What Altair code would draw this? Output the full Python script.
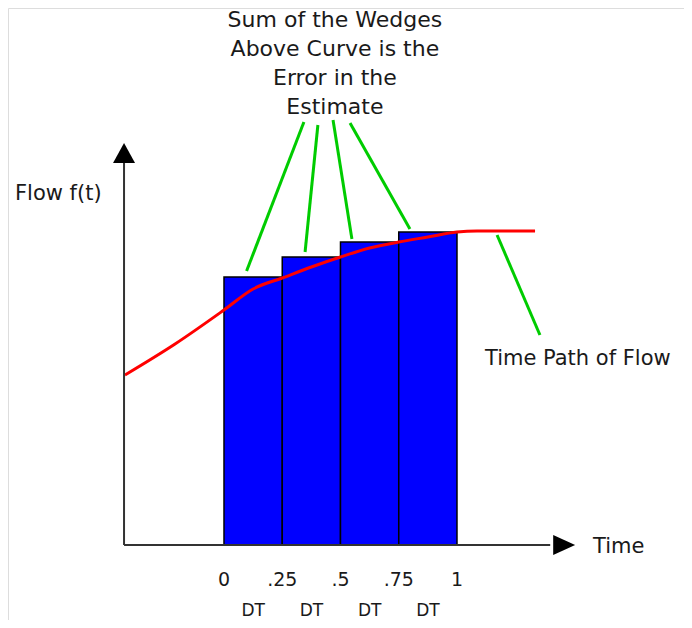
import altair as alt
import pandas as pd

# ---- data ----
bar_start = [0.0, 0.25, 0.5, 0.75]
bar_end = [0.25, 0.5, 0.75, 1.0]
bar_value = [2.68, 2.88, 3.03, 3.13]

curve_t = [-0.425, -0.21, 0.0, 0.125, 0.25, 0.375, 0.5, 0.625, 0.75, 0.875, 1.0, 1.086, 1.335]
curve_flow = [1.70, 2.01, 2.35, 2.56, 2.67, 2.78, 2.88, 2.97, 3.03, 3.08, 3.13, 3.14, 3.14]

tick_values = [0.0, 0.25, 0.5, 0.75, 1.0]
tick_labels = ["0", ".25", ".5", ".75", "1"]
dt_positions = [0.125, 0.375, 0.625, 0.875]
dt_labels = ["DT", "DT", "DT", "DT"]

title_lines = ["Sum of the Wedges", "Above Curve is the", "Error in the", "Estimate"]
title_y = [5.18, 4.89, 4.60, 4.31]
title_x = 0.476

side_labels = ["Flow f(t)", "Time Path of Flow", "Time"]
side_x = [-0.897, 1.120, 1.584]
side_y = [3.45, 1.80, -0.08]

green_x1 = [0.343, 0.403, 0.468, 0.541, 1.172]
green_y1 = [4.23, 4.20, 4.25, 4.22, 3.10]
green_x2 = [0.097, 0.348, 0.549, 0.798, 1.356]
green_y2 = [2.74, 2.93, 3.06, 3.16, 2.10]

axis_origin_t = -0.429
axis_x_end = 1.40
axis_y_end = 3.85
x_arrow = (1.46, 0.0)
y_arrow = (-0.429, 3.92)

FONT = "DejaVu Sans"
TXT = "#1a1a1a"

W, H = 676, 612
PX_PER_T = 233.0
PX_PER_F = 100.0
x_lo = -0.927
y_hi = 5.37
xs = alt.Scale(domain=[x_lo, x_lo + W / PX_PER_T], nice=False, zero=False)
ys = alt.Scale(domain=[y_hi - H / PX_PER_F, y_hi], nice=False, zero=False)

def X(f):
    return alt.X(f, type="quantitative", scale=xs, axis=None)

def Y(f):
    return alt.Y(f, type="quantitative", scale=ys, axis=None)

bars_df = pd.DataFrame({"s": bar_start, "e": bar_end, "v": bar_value, "z": [0.0] * 4})
curve_df = pd.DataFrame({"t": curve_t, "f": curve_flow})
green_df = pd.DataFrame({"x1": green_x1, "y1": green_y1, "x2": green_x2, "y2": green_y2})
axes_df = pd.DataFrame({
    "x1": [axis_origin_t, axis_origin_t],
    "y1": [0.0, 0.0],
    "x2": [axis_x_end, axis_origin_t],
    "y2": [0.0, axis_y_end],
})
title_df = pd.DataFrame({"label": title_lines, "x": [title_x] * 4, "y": title_y})
side_df = pd.DataFrame({"label": side_labels, "x": side_x, "y": side_y})
tick_df = pd.DataFrame({"label": tick_labels, "x": tick_values, "y": [-0.41] * 5})
dt_df = pd.DataFrame({"label": dt_labels, "x": dt_positions, "y": [-0.71] * 4})

bars = alt.Chart(bars_df).mark_rect(
    color="#0000ff", stroke="#000000", strokeWidth=1.5
).encode(x=X("s"), x2="e", y=Y("z"), y2="v")

curve = alt.Chart(curve_df).mark_line(
    color="#ff0000", strokeWidth=3, interpolate="monotone"
).encode(x=X("t"), y=Y("f"), order="t:Q")

greens = alt.Chart(green_df).mark_rule(
    color="#00cc00", strokeWidth=3
).encode(x=X("x1"), y=Y("y1"), x2="x2", y2="y2")

axes = alt.Chart(axes_df).mark_rule(
    color="#333333", strokeWidth=2
).encode(x=X("x1"), y=Y("y1"), x2="x2", y2="y2")

xarrow = alt.Chart(pd.DataFrame({"x": [x_arrow[0]], "y": [x_arrow[1]]})).mark_point(
    shape="M-1,-0.9L1,0L-1,0.9Z", filled=True, color="#000000", size=484, opacity=1, strokeWidth=0
).encode(x=X("x"), y=Y("y"))

yarrow = alt.Chart(pd.DataFrame({"x": [y_arrow[0]], "y": [y_arrow[1]]})).mark_point(
    shape="M0,-0.9L1,0.9L-1,0.9Z", filled=True, color="#000000", size=484, opacity=1, strokeWidth=0
).encode(x=X("x"), y=Y("y"))

titles = alt.Chart(title_df).mark_text(
    font=FONT, fontSize=22, color=TXT, align="center", baseline="alphabetic"
).encode(x=X("x"), y=Y("y"), text="label:N")

sides = alt.Chart(side_df).mark_text(
    font=FONT, fontSize=21, color=TXT, align="left", baseline="alphabetic"
).encode(x=X("x"), y=Y("y"), text="label:N")

ticks = alt.Chart(tick_df).mark_text(
    font=FONT, fontSize=19, color=TXT, align="center", baseline="alphabetic"
).encode(x=X("x"), y=Y("y"), text="label:N")

dts = alt.Chart(dt_df).mark_text(
    font=FONT, fontSize=17, color=TXT, align="center", baseline="alphabetic"
).encode(x=X("x"), y=Y("y"), text="label:N")

chart = alt.layer(
    bars, curve, greens, axes, xarrow, yarrow, titles, sides, ticks, dts
).properties(
    width=W, height=H, padding=0,
    autosize=alt.AutoSizeParams(type="none"),
).configure_view(stroke=None).configure(background="white")

chart.save("out.html", embed_options={"renderer": "svg", "actions": False})
